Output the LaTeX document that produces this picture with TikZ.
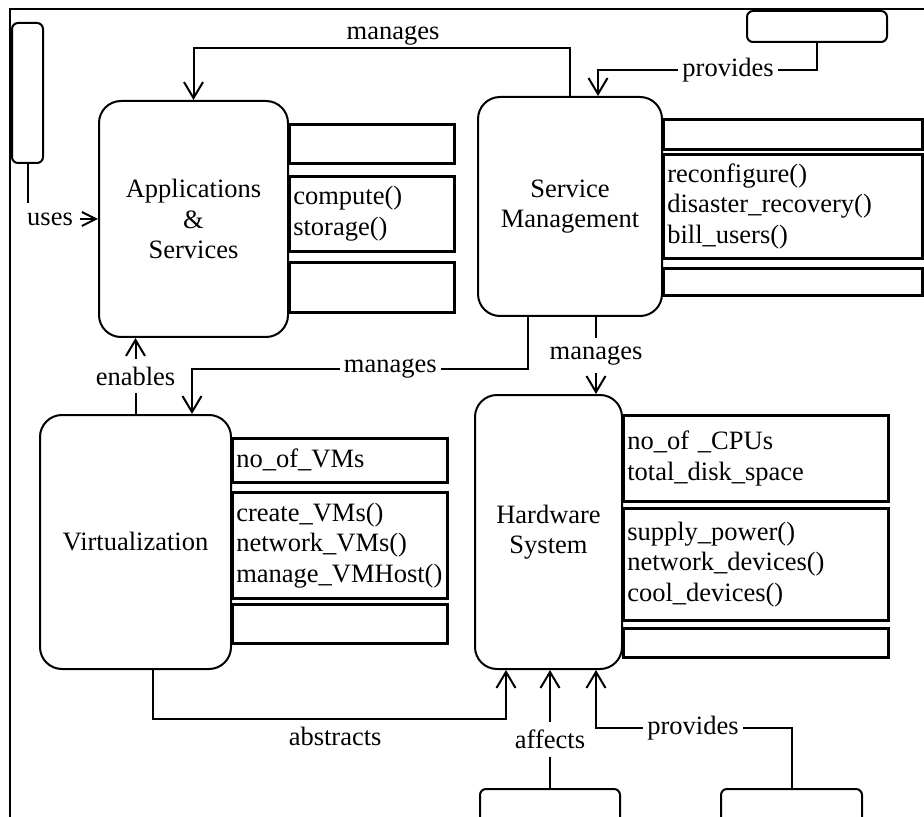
\documentclass[tikz,border=0pt]{standalone}
\usepackage{fontspec}
\setmainfont{Liberation Serif}
\usetikzlibrary{arrows.meta, positioning}

\begin{document}
\begin{tikzpicture}[
        x=0.5pt, y=-0.5pt, >={Straight Barb[length=8pt,width=9.5pt]},
        font=\fontsize{13.25}{15.2}\selectfont, line width=1pt,
        block/.style={draw, rounded corners=11pt, align=center, inner sep=0pt},
        actor/.style={draw, rounded corners=3pt, inner sep=0pt},
        slot/.style 2 args={draw, line width=1.3pt, anchor=north west, align=left,
          inner xsep=2pt, inner ysep=0pt, minimum width=#1, text width=#1-4pt,
          minimum height=#2},
        lbl/.style={fill=white, inner xsep=2pt, inner ysep=4pt},
        ]
        \clip (0,0) rectangle (924,817);
        \draw (10,840) |- (940,9);

        % the four layers
        \node[block, minimum width=94.5pt, minimum height=118pt] (apps) at (193.5,219) {Applications\\\&\\Services};
        \node[block, minimum width=92pt, minimum height=109.5pt] (mgmt) at (570,206.5) {Service\\Management};
        \node[block, minimum width=95.5pt, minimum height=127pt] (virt) at (135.5,542) {Virtualization};
        \node[block, minimum width=73.5pt, minimum height=137pt] (hw) at (548.5,532) {Hardware\\System};

        % compartments
        \node[slot={82.5pt}{19.5pt}] (apps-a) at (288,123) {};
        \node[slot={82.5pt}{37.5pt}] (apps-o) at (288,175) {compute()\\storage()};
        \node[slot={82.5pt}{25pt}] (apps-x) at (288,261) {};
        \node[slot={129.5pt}{15pt}] (mgmt-a) at (662,118) {};
        \node[slot={129.5pt}{52pt}] (mgmt-o) at (662,153) {reconfigure()\\disaster\_recovery()\\bill\_users()};
        \node[slot={129.5pt}{13.5pt}] (mgmt-x) at (662,267) {};
        \node[slot={107.5pt}{22pt}] (virt-a) at (231,437) {no\_of\_VMs};
        \node[slot={107.5pt}{53pt}] (virt-o) at (231,491) {create\_VMs()\\network\_VMs()\\manage\_VMHost()};
        \node[slot={107.5pt}{19.5pt}] (virt-x) at (231,603) {};
        \node[slot={132.5pt}{43pt}] (hw-a) at (622,414) {no\_of \_CPUs\\total\_disk\_space};
        \node[slot={132.5pt}{56pt}] (hw-o) at (622,507) {supply\_power()\\network\_devices()\\cool\_devices()};
        \node[slot={132.5pt}{14.5pt}] (hw-x) at (622,627) {};

        % outside parties
        \node[actor, minimum width=15.5pt, minimum height=70pt] (user) at (27.5,93) {};
        \node[actor, minimum width=70pt, minimum height=15.5pt] (admin) at (817,26.5) {};
        \node[actor, minimum width=70pt, minimum height=30pt] (env) at (550,819) {};
        \node[actor, minimum width=70.5pt, minimum height=30pt] (power) at (791.5,819) {};

        \draw[-{Straight Barb[length=7pt,width=7pt]}] (user) |- node[lbl, pos=0.66, minimum width=30pt, minimum height=16pt] {uses} (apps);
        \draw[->] (mgmt.north) -- ++(0,-48) -| node[above, yshift=-2.5pt, pos=0.235] {manages} (apps.north);
        \draw[->] (admin.south) -- ++(0,27) -| node[lbl, pos=0.203, minimum width=50pt] {provides} ([xshift=14pt]mgmt.north);
        \draw[->] ([xshift=-21pt]mgmt.south) -- ++(0,52) -| node[lbl, pos=0.205] {manages} ([xshift=28.25pt]virt.north);
        \draw[->] ([xshift=13pt]mgmt.south) -- node[lbl] {manages} ([xshift=23.75pt]hw.north);
        \draw[->] (virt) -- node[lbl] {enables} (virt |- apps.south);
        \draw[->] ([xshift=8.75pt]virt.south) -- ++(0,49) -| node[below, pos=0.258] {abstracts} ([xshift=-21.25pt]hw.south);
        \draw[->] (env) -- node[lbl, pos=0.41] {affects} (env |- hw.south);
        \draw[->] (power.north) -- ++(0,-60) -| node[lbl, pos=0.252, minimum width=50pt] {provides} ([xshift=23.75pt]hw.south);
\end{tikzpicture}
\end{document}
